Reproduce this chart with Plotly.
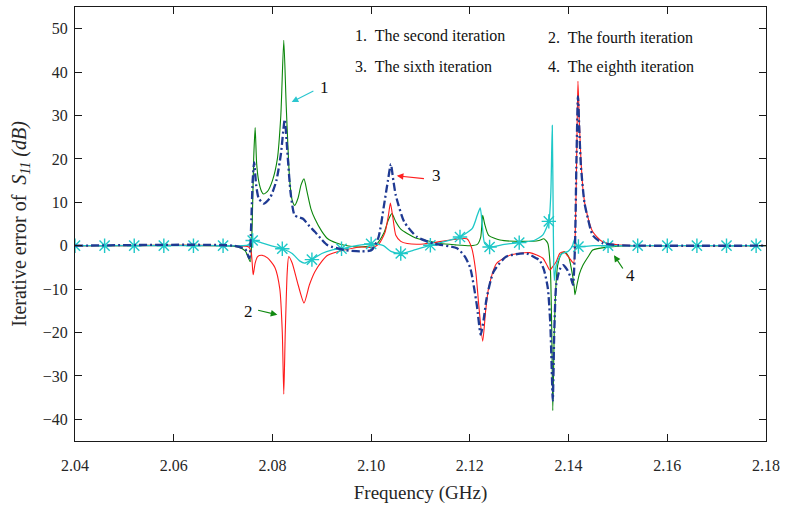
import plotly.graph_objects as go

# ---- Frequency axis (GHz) and S11 iterative error (dB) for each iteration ----
freq_2nd = [2.040, 2.070, 2.073, 2.0745, 2.0755, 2.0759, 2.0762, 2.0765, 2.0768, 2.0772,
            2.0778, 2.0782, 2.0790, 2.0800, 2.0810, 2.0817, 2.0823, 2.0828, 2.0835, 2.0840,
            2.0845, 2.0852, 2.0858, 2.0864, 2.0870, 2.0878, 2.0886, 2.0900, 2.0912, 2.0930,
            2.0946, 2.0975, 2.1010, 2.1026, 2.1035, 2.1042, 2.1050, 2.1060, 2.1073, 2.1090,
            2.1107, 2.1140, 2.1170, 2.1201, 2.1215, 2.1222, 2.1226, 2.1230, 2.1238, 2.1261,
            2.1308, 2.1340, 2.1350, 2.1358, 2.1363, 2.1366, 2.1368, 2.1371, 2.1375, 2.1378,
            2.1385, 2.1392, 2.1400, 2.1406, 2.1411, 2.1413, 2.1417, 2.1422, 2.1429, 2.1440,
            2.1449, 2.1482, 2.1520, 2.1800]
err_2nd = [0, 0, -0.3, -1.2, -3.7, 5, 20, 27.2, 19, 15,
           12.5, 11.9, 12.5, 15, 20, 30, 47.3, 32, 15, 10.5,
           9.3, 11, 14, 15.4, 12.5, 8.5, 6.2, 3.3, 1.6, 0.6,
           0.1, -0.3, 0.3, 3, 6, 7.4, 5.5, 3.8, 2.8, 1.8,
           1.3, 0.5, 0.2, 0, 0.3, 2, 7.0, 5, 2.4, 1.3,
           1.0, 1.2, 1.6, 0.5, -5, -20, -38, -20, -8, -4.5,
           -2, -1.4, -2.5, -5.5, -9, -11.3, -9, -6.5, -4.5, -2.5,
           -1.0, -0.3, 0, 0]

freq_4th = [2.040, 2.072, 2.0752, 2.0757, 2.0761, 2.0765, 2.0770, 2.0778, 2.0790, 2.0805,
            2.0815, 2.0820, 2.0823, 2.0826, 2.0830, 2.0833, 2.0840, 2.0852, 2.0864, 2.0875,
            2.0886, 2.0900, 2.0912, 2.0946, 2.0980, 2.1001, 2.1015, 2.1028, 2.1035, 2.1039,
            2.1044, 2.1050, 2.1060, 2.1073, 2.1107, 2.1160, 2.1194, 2.1204, 2.1212, 2.1218,
            2.1226, 2.1232, 2.1238, 2.1254, 2.1281, 2.1321, 2.1348, 2.1355, 2.1362, 2.1368,
            2.1375, 2.1382, 2.1390, 2.1402, 2.1410, 2.1414, 2.1417, 2.1419, 2.1422, 2.1425,
            2.1430, 2.1435, 2.1449, 2.1469, 2.1500, 2.1550, 2.1800]
err_4th = [0, 0, -0.3, -1.5, -6.7, -4, -2.5, -2.2, -2.8, -5,
           -10, -20, -34.2, -20, -6, -2.5, -4, -9, -13.2, -9,
           -6.0, -3.6, -2.2, -1.0, -0.3, -0.4, 0.3, 3, 7, 9.8,
           6.5, 2.4, 1.0, 0.5, 0.4, 1.3, 1.6, -0.6, -6, -13.6,
           -22.0, -15, -9.8, -4.1, -2.2, -1.6, -2.9, -4.2, -5.6, -4.8,
           -3.7, -1.8, -1.4, -2.9, -4, 5, 25, 37.9, 28, 20,
           12, 8.5, 3.2, 0.9, 0.2, 0, 0]

freq_6th = [2.040, 2.072, 2.0745, 2.0753, 2.0757, 2.0760, 2.0763, 2.0767, 2.0772, 2.0782,
            2.0795, 2.0808, 2.0817, 2.0825, 2.0830, 2.0837, 2.0845, 2.0855, 2.0862, 2.0875,
            2.0886, 2.0900, 2.0912, 2.0946, 2.0979, 2.1001, 2.1015, 2.1026, 2.1034, 2.1040,
            2.1045, 2.1050, 2.1067, 2.1093, 2.1127, 2.1174, 2.1190, 2.1201, 2.1214, 2.1222,
            2.1228, 2.1234, 2.1248, 2.1274, 2.1315, 2.1335, 2.1341, 2.1350, 2.1358, 2.1363,
            2.1365, 2.1368, 2.1371, 2.1375, 2.1382, 2.1389, 2.1397, 2.1405, 2.1409, 2.1413,
            2.1416, 2.1419, 2.1422, 2.1425, 2.1432, 2.1437, 2.1449, 2.1469, 2.1500, 2.1550,
            2.1800]
err_6th = [0, 0, -0.8, -2.9, 5, 15, 19.2, 14, 11, 9.7,
           11, 15, 21, 29.1, 22, 12, 7.0, 6.5, 6.2, 4.5,
           3.2, 1.4, 0.1, -1.0, -1.3, -1.0, 2, 9.3, 15, 18.8,
           15, 11.6, 5.5, 2.0, 0.5, -0.6, -2.5, -5.2, -13.6, -20.5,
           -17, -12.1, -6.0, -2.5, -1.8, -2.9, -3.3, -5.5, -9.8, -18,
           -25, -35.7, -20, -9, -5.5, -4.5, -5.5, -7.5, -9.0, 0,
           20, 34.4, 26, 18.4, 10, 7.3, 2.4, 0.6, 0.1, 0,
           0]

freq_8th = [2.040, 2.046, 2.052, 2.058, 2.064, 2.070, 2.074, 2.0752, 2.0757, 2.076,
            2.078, 2.080, 2.082, 2.084, 2.0855, 2.0865, 2.088, 2.090, 2.092, 2.094,
            2.097, 2.100, 2.1025, 2.104, 2.106, 2.109, 2.112, 2.115, 2.118, 2.1205,
            2.1215, 2.1221, 2.1225, 2.1230, 2.124, 2.127, 2.130, 2.133, 2.1348, 2.136,
            2.1364, 2.1367, 2.1369, 2.1371, 2.1375, 2.1385, 2.1400, 2.1408, 2.1412, 2.1415,
            2.142, 2.145, 2.148, 2.154, 2.160, 2.166, 2.172, 2.178, 2.180]
err_8th = [0, 0, 0, 0, 0, 0, 0, 0.2, 0.8, 1.2,
           0.6, -0.1, -0.7, -1.8, -3.5, -4.0, -3.2, -1.8, -1.0, -0.7,
           0.0, 0.4, 0.0, -1.3, -1.8, -0.9, 0.1, 1.0, 2.0, 4.0,
           7, 8.7, 5, 0.5, -0.3, 0.3, 0.7, 1.2, 2.5, 5.6,
           12, 27.7, 5, -8, -4.5, -2, -1.2, 0, 1.5, 0.5,
           -0.2, 0, 0, 0, 0, 0, 0, 0, 0]

# Asterisk markers on the eighth-iteration curve (every 0.006 GHz)
mark_freq = [2.040, 2.046, 2.052, 2.058, 2.064, 2.070, 2.076, 2.082, 2.088, 2.094,
             2.100, 2.106, 2.112, 2.118, 2.124, 2.130, 2.136, 2.142, 2.148, 2.154,
             2.160, 2.166, 2.172, 2.178]
mark_err = [0, 0, 0, 0, 0, 0, 1.2, -0.7, -3.2, -0.7,
            0.4, -1.8, 0.1, 2.0, -0.3, 0.7, 5.6, -0.2, 0, 0,
            0, 0, 0, 0]

x_ticks = [2.04, 2.06, 2.08, 2.10, 2.12, 2.14, 2.16, 2.18]
y_ticks = [-40, -30, -20, -10, 0, 10, 20, 30, 40, 50]

legend_lines = ["1.\u00a0 The second iteration", "2.\u00a0 The fourth iteration",
                "3.\u00a0 The sixth iteration", "4.\u00a0 The eighth iteration"]

GREEN = "#0a860a"
RED = "#ff1a1a"
NAVY = "#1f3a93"
CYAN = "#1ec8c8"
SERIF = "Liberation Serif"

fig = go.Figure()
fig.add_trace(go.Scatter(x=freq_2nd, y=err_2nd, mode="lines",
                         line=dict(color=GREEN, width=1.1, shape="spline", smoothing=0.6)))
fig.add_trace(go.Scatter(x=freq_4th, y=err_4th, mode="lines",
                         line=dict(color=RED, width=1.1, shape="spline", smoothing=0.6)))
fig.add_trace(go.Scatter(x=freq_8th, y=err_8th, mode="lines",
                         line=dict(color=CYAN, width=1.3, shape="spline", smoothing=0.6)))
fig.add_trace(go.Scatter(x=mark_freq, y=mark_err, mode="markers",
                         marker=dict(symbol="asterisk-open", size=12, color=CYAN,
                                     line=dict(color=CYAN, width=1.4))))
fig.add_trace(go.Scatter(x=freq_6th, y=err_6th, mode="lines",
                         line=dict(color=NAVY, width=2.3, dash="8px,3px,2px,3px",
                                   shape="spline", smoothing=0.6)))

annotations = []
# Legend-style text block
legend_pos = [(0.4016, 0.934), (0.6816, 0.929), (0.4016, 0.864), (0.6816, 0.861)]
for txt, (px, py) in zip(legend_lines, legend_pos):
    annotations.append(dict(text=txt, x=px, y=py, xref="paper", yref="paper",
                            xanchor="left", yanchor="middle", showarrow=False,
                            font=dict(family=SERIF, size=16, color="#111111")))

# Curve labels with arrows (head, tail, label position, colour)
arrows = [
    ("1", (2.0839, 33.1), (2.0886, 35.8), (2.0906, 36.4), "#2cc6cf"),
    ("2", (2.0810, -15.9), (2.0768, -14.8), (2.0751, -15.1), "#118a11"),
    ("3", (2.1052, 16.1), (2.1110, 15.4), (2.1133, 16.1), "#ff2020"),
    ("4", (2.1492, -2.2), (2.1512, -5.6), (2.1526, -6.8), "#118a11"),
]
for label, head, tail, pos, col in arrows:
    annotations.append(dict(text="", x=head[0], y=head[1], ax=tail[0], ay=tail[1],
                            xref="x", yref="y", axref="x", ayref="y", showarrow=True,
                            arrowhead=2, arrowsize=1.1, arrowwidth=1.2, arrowcolor=col))
    annotations.append(dict(text=label, x=pos[0], y=pos[1], xref="x", yref="y",
                            showarrow=False, xanchor="center", yanchor="middle",
                            font=dict(family=SERIF, size=17, color="#111111")))

axis_common = dict(showline=True, linecolor="#1a1a1a", linewidth=1.2, mirror="ticks",
                   ticks="inside", ticklen=7, tickwidth=1, tickcolor="#1a1a1a",
                   showgrid=False, zeroline=False,
                   tickfont=dict(family=SERIF, size=16, color="#262626"))

fig.update_layout(
    width=786, height=506,
    margin=dict(l=75, r=14, t=6, b=63),
    paper_bgcolor="white", plot_bgcolor="white",
    showlegend=False,
    font=dict(family=SERIF),
    xaxis=dict(range=[2.04, 2.18], tickvals=x_ticks, tickformat=".2f",
               ticklabelstandoff=10,
               title=dict(text="Frequency (GHz)", standoff=12,
                          font=dict(family=SERIF, size=19, color="#262626")),
               **axis_common),
    yaxis=dict(range=[-45, 55], tickvals=y_ticks, ticklabelstandoff=3,
               title=dict(text="Iterative error of\u00a0\u00a0<i>S</i><sub><i>11</i></sub>\u00a0<i>(dB)</i>",
                          standoff=10,
                          font=dict(family=SERIF, size=20, color="#262626")),
               **axis_common),
    annotations=annotations,
)

fig.write_html("out.html")
